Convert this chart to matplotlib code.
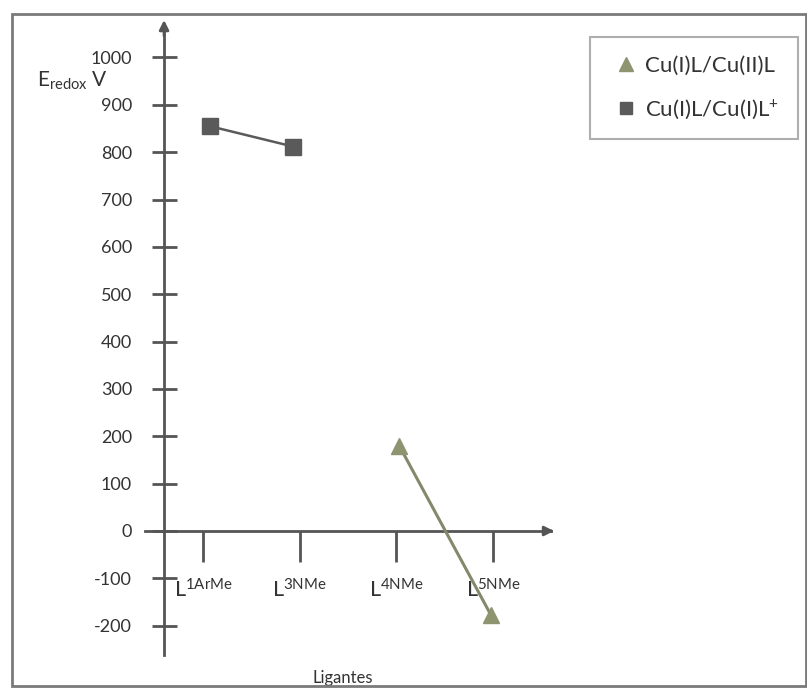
import numpy as np
import matplotlib
matplotlib.use("Agg")
import matplotlib.pyplot as plt
from matplotlib.patches import Rectangle

# =========================
# DATA
# =========================
ligands = [r"L$^{\mathrm{1ArMe}}$", r"L$^{\mathrm{3NMe}}$",
           r"L$^{\mathrm{4NMe}}$", r"L$^{\mathrm{5NMe}}$"]
ligand_pos = [1, 2, 3, 4]

# Cu(I)L/Cu(I)L+  (squares)
sq_pos = [1.07, 1.93]
sq_vals = [855, 812]

# Cu(I)L/Cu(II)L  (triangles)
tri_pos = [3.03, 3.98]
tri_vals = [180, -178]

yticks = [-200, -100, 0, 100, 200, 300, 400, 500, 600, 700, 800, 900, 1000]

# =========================
# STYLE
# =========================
plt.rcParams["font.family"] = ["Lato", "DejaVu Sans"]
plt.rcParams["mathtext.fontset"] = "custom"
plt.rcParams["mathtext.rm"] = "Lato"
plt.rcParams["mathtext.it"] = "Lato:italic"
plt.rcParams["mathtext.bf"] = "Lato:bold"

AXIS_COLOR = "#555555"
SQ_COLOR = "#5a5a5a"
TRI_COLOR = "#8e9470"
TRI_LINE = "#85886a"
TEXT_COLOR = "#333333"

fig = plt.figure(figsize=(8.07, 6.91), dpi=100)
ax = fig.add_axes([0, 0, 1, 1])
ax.set_xlim(-1.100, 7.248)
ax.set_ylim(-337.9, 1121.4)

# outer frame
fig.patches.append(Rectangle((0.0149, 0.0072), 0.984, 0.9725, transform=fig.transFigure,
                             fill=False, edgecolor="#7a7a7a", linewidth=2))

# =========================
# AXES (spines crossing at the origin)
# =========================
for s in ["top", "right"]:
    ax.spines[s].set_visible(False)
ax.spines["left"].set_position(("data", 0.597))
ax.spines["bottom"].set_position(("data", 0))
ax.spines["left"].set_bounds(-262, 1060)
ax.spines["bottom"].set_bounds(0.40, 4.60)
for s in ["left", "bottom"]:
    ax.spines[s].set_color(AXIS_COLOR)
    ax.spines[s].set_linewidth(2)

# arrow heads
ax.annotate("", xy=(0.597, 1085), xytext=(0.597, 1040),
            arrowprops=dict(arrowstyle="-|>", color=AXIS_COLOR, lw=2, mutation_scale=14))
ax.annotate("", xy=(4.66, 0), xytext=(4.55, 0),
            arrowprops=dict(arrowstyle="-|>", color=AXIS_COLOR, lw=2, mutation_scale=14))

ax.set_yticks(yticks)
ax.set_yticklabels([str(v) for v in yticks])
ax.tick_params(axis="y", direction="inout", length=18, width=2, color=AXIS_COLOR,
               labelsize=13, labelcolor=TEXT_COLOR, pad=14)

ax.set_xticks(ligand_pos)
ax.set_xticklabels(ligands)
ax.tick_params(axis="x", direction="out", length=22, width=2, color=AXIS_COLOR,
               labelsize=15.5, labelcolor=TEXT_COLOR, pad=12)
ax.set_xticks(ligand_pos, minor=True)
ax.tick_params(axis="x", which="minor", direction="in", length=10, width=2, color=AXIS_COLOR)
ax.tick_params(axis="y", which="minor", left=False)

# =========================
# SERIES
# =========================
ax.plot(sq_pos, sq_vals, "-", color=SQ_COLOR, linewidth=1.8, zorder=3)
ax.plot(tri_pos, tri_vals, "-", color=TRI_LINE, linewidth=2.2, zorder=3)
ax.plot(tri_pos, tri_vals, "^", color=TRI_COLOR, markersize=12, zorder=4,
        label="Cu(I)L/Cu(II)L")
ax.plot(sq_pos, sq_vals, "s", color=SQ_COLOR, markersize=11, zorder=4,
        label=r"Cu(I)L/Cu(I)L$^{+}$")

# labels
ax.text(0.0459, 1 - 87 / 691, r"E$_{\mathrm{redox}}$ V", transform=ax.transAxes,
        fontsize=15, color=TEXT_COLOR, ha="left", va="baseline")
ax.text(343 / 807, 1 - 678 / 691, "Ligantes", transform=ax.transAxes,
        fontsize=12, color=TEXT_COLOR, ha="center", va="center")

leg = ax.legend(loc="upper left", bbox_to_anchor=(0.731, 0.946), borderaxespad=0,
                fontsize=16, frameon=True, fancybox=False, numpoints=1, markerscale=0.8,
                handlelength=1.55, handletextpad=0.1, borderpad=0.85, labelspacing=0.95)
leg.get_frame().set_edgecolor("#9a9a9a")
leg.get_frame().set_linewidth(1.5)
for t in leg.get_texts():
    t.set_color(TEXT_COLOR)

fig.savefig("out.png", dpi=100)
